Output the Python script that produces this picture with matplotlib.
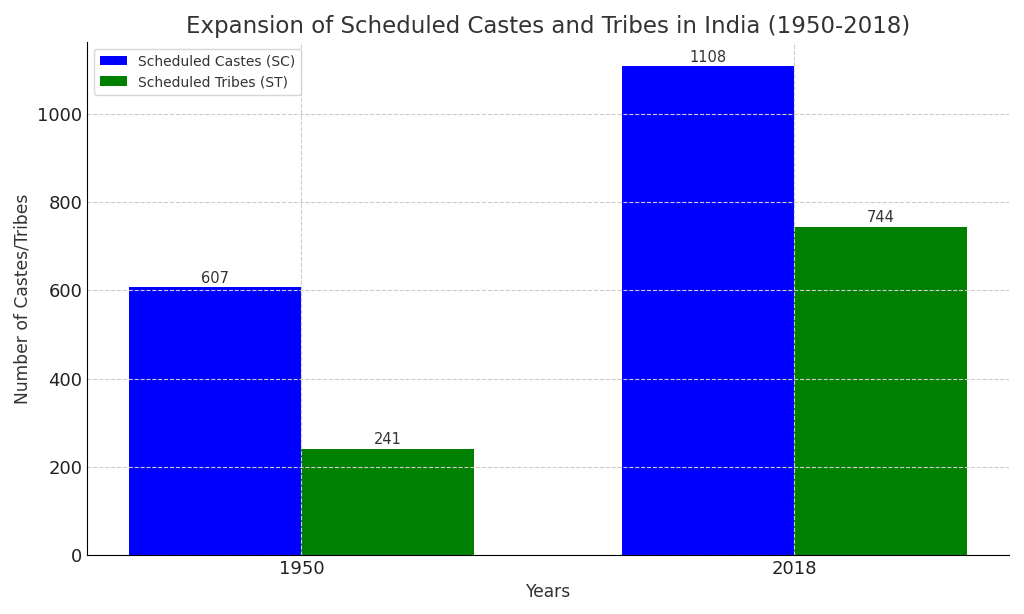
import matplotlib.pyplot as plt
import numpy as np

# données
years = ['1950', '2018']
sc_counts = [607, 1108]
st_counts = [241, 744]

text_color = '#333333'
plt.rcParams['text.color'] = text_color
plt.rcParams['axes.labelcolor'] = text_color

fig, ax = plt.subplots(figsize=(10.24, 6.14), dpi=100)

x = np.arange(len(years))
width = 0.35

bars_sc = ax.bar(x - width / 2, sc_counts, width, color='blue', label='Scheduled Castes (SC)')
bars_st = ax.bar(x + width / 2, st_counts, width, color='green', label='Scheduled Tribes (ST)')

for bars in (bars_sc, bars_st):
    for b in bars:
        h = b.get_height()
        ax.annotate(f'{int(h)}', xy=(b.get_x() + b.get_width() / 2, h),
                    xytext=(0, 1), textcoords='offset points',
                    ha='center', va='bottom', fontsize=10.5, color=text_color)

ax.set_title('Expansion of Scheduled Castes and Tribes in India (1950-2018)',
             fontsize=16.5, color=text_color)
ax.set_xlabel('Years', fontsize=12.3, labelpad=4)
ax.set_ylabel('Number of Castes/Tribes', fontsize=12.3)
ax.set_xticks(x)
ax.set_xticklabels(years)
ax.tick_params(labelsize=13, colors='#222222', length=0)

ax.grid(True, linestyle='--', color='#cccccc', linewidth=0.8)
ax.spines['top'].set_visible(False)
ax.spines['right'].set_visible(False)

leg = ax.legend(loc='upper left', fontsize=10)
for t in leg.get_texts():
    t.set_color(text_color)

fig.subplots_adjust(left=0.085, right=0.985, top=0.932, bottom=0.096)
plt.savefig('out.png')
plt.close(fig)
